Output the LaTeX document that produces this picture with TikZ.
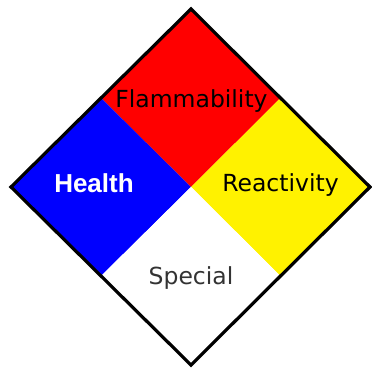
\documentclass[tikz,border=0pt]{standalone}
\usepackage{fontspec}
\setmainfont{DejaVu Sans}
\newfontfamily\healthfont{Liberation Sans}
\usetikzlibrary{calc}

\tikzset{
  label/.style={anchor=base,inner sep=0pt,font=\fontsize{23.5}{23.5}\selectfont}
}

\begin{document}
\begin{tikzpicture}[x=1pt,y=-1pt]
    \useasboundingbox (0,0) rectangle (372,369);
    \fill[white] (0,0) rectangle (372,369);

    % corners of the diamond and its centre
    \coordinate (top) at (191,9);
    \coordinate (left) at (11,187);
    \coordinate (right) at (370,187);
    \coordinate (bottom) at (191,365);
    \coordinate (mid) at (191,187);
    \coordinate (tl) at ($(top)!.5!(left)$);
    \coordinate (tr) at ($(top)!.5!(right)$);
    \coordinate (bl) at ($(bottom)!.5!(left)$);
    \coordinate (br) at ($(bottom)!.5!(right)$);

    \fill[red] (top) -- (tr) -- (mid) -- (tl) -- cycle;
    \fill[blue] (left) -- (tl) -- (mid) -- (bl) -- cycle;
    \fill[yellow] (right) -- (tr) -- (mid) -- (br) -- cycle;
    \fill[white] (bottom) -- (bl) -- (mid) -- (br) -- cycle;
    \draw[line width=3.2pt,line join=miter] (top) -- (right) -- (bottom) -- (left) -- cycle;

    \node[label] (flam) at (191.5,107) {Flammability};
    \node[label,font=\healthfont\fontsize{26}{26}\selectfont\bfseries,text=white] (health) at (94,192) {Health};
    \node[label] (react) at (280.5,191) {Reactivity};
    \node[label,text=black!80] (special) at (191,284) {Special};
\end{tikzpicture}
\end{document}
